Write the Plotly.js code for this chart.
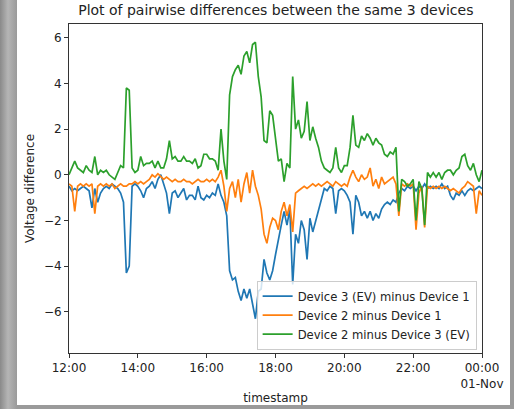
<!DOCTYPE html>
<html>
<head>
<meta charset="utf-8">
<script src="https://cdn.plot.ly/plotly-3.0.1.min.js"></script>
<style>
  html, body { margin: 0; padding: 0; width: 514px; height: 409px; overflow: hidden;
    background: linear-gradient(90deg, #8a8a8a 0px, #b5b5b5 8px, #9a9a9a 17px, #9a9a9a 100%); }
  #chart { position: absolute; left: 17px; top: 0px; width: 493px; height: 405px; background: #fff; }
</style>
</head>
<body>
<div id="chart"></div>
<script>
// 5-minute samples from 12:00 to 00:00
const startTime = '2023-10-31T12:00:00';
const stepMinutes = 5;

const dev3MinusDev1 = [
  -0.5,-0.7,-0.6,-0.7,-0.6,-0.5,-0.6,-0.7,-1.45,-0.6,
  -1.2,-0.8,-0.6,-0.5,-0.6,-0.4,-0.5,-0.6,-0.8,-1.2,
  -4.3,-4.0,-0.5,-0.4,-0.5,-0.7,-1.0,-0.6,-0.5,-0.3,
  -0.6,-0.2,0.0,-0.4,-0.8,-1.7,-0.8,-0.7,-1.0,-0.8,
  -0.6,-1.1,-0.9,-0.9,-1.1,-0.5,-1.0,-1.1,-0.9,-1.0,
  -0.8,-0.9,-0.4,-0.9,-1.2,-1.8,-4.2,-4.6,-4.5,-5.1,
  -5.5,-5.0,-5.4,-5.0,-5.6,-6.3,-5.1,-5.0,-3.7,-4.3,
  -4.6,-4.2,-3.5,-2.8,-2.2,-1.6,-2.2,-1.5,-4.8,-2.6,
  -3.0,-2.0,-2.4,-3.7,-1.9,-2.5,-2.0,-1.5,-1.0,-0.6,
  -0.7,-0.5,-0.6,-1.7,-0.7,-0.6,-0.7,-0.9,-1.2,-2.6,
  -0.9,-1.2,-1.8,-1.6,-1.9,-1.6,-2.0,-1.7,-1.9,-1.5,
  -1.3,-1.2,-1.3,-1.1,-1.2,-0.8,-0.6,-0.7,-0.5,-0.6,
  -0.5,-0.7,-0.5,-0.6,-0.4,-0.6,-0.5,-0.6,-0.5,-0.6,
  -0.4,-0.6,-0.5,-0.9,-1.1,-0.8,-0.9,-0.7,-0.9,-0.7,
  -0.6,-0.7,-0.6,-0.5,-0.6
];

const dev2MinusDev1 = [
  -0.4,-0.5,-1.6,-0.5,-0.4,-0.5,-0.4,-0.5,-0.4,-1.7,
  -0.5,-0.4,-0.5,-0.4,-0.5,-0.4,-0.6,-0.5,-0.4,-0.5,
  -0.5,-0.4,-0.4,-0.3,-0.4,-0.3,-0.4,-0.3,-0.2,0.0,
  -0.1,0.05,-0.1,-0.2,-0.1,-0.2,-0.3,-0.2,-0.3,-0.3,
  -0.2,-0.3,-0.3,-0.4,-0.3,-0.2,-0.3,-0.3,-0.2,-0.3,
  -0.2,-0.3,-0.1,0.2,-0.5,-1.6,-0.6,-0.3,-1.0,-0.2,
  -1.2,-0.4,0.1,-0.8,0.2,-0.5,-0.9,-1.5,-2.6,-3.0,
  -2.3,-1.9,-2.0,-2.4,-1.6,-1.2,-1.8,-1.3,-2.5,-0.8,
  -0.7,-0.6,-0.5,-0.6,-0.5,-0.4,-0.5,-0.4,-0.5,-0.4,
  -0.3,-0.4,-0.5,-0.3,-0.4,-0.5,-0.4,-0.5,-0.1,0.2,
  -0.1,-0.3,0.0,-0.2,-0.1,0.3,-0.5,-0.2,-0.6,-0.1,
  -0.4,-0.3,-0.2,-0.1,-0.4,-1.8,-0.4,-0.5,-0.4,-0.5,
  -0.4,-2.4,-0.8,-0.5,-2.3,-0.5,-0.6,-0.5,-0.6,-0.5,
  -0.6,-0.5,-0.6,-0.7,-0.6,-0.7,-0.8,-0.6,-0.5,-0.3,
  -0.4,-0.5,-1.7,-0.7,-0.9
];

const dev2MinusDev3 = [
  0.0,0.3,0.6,0.3,0.2,0.1,0.4,0.2,0.1,0.8,
  0.0,0.2,0.1,0.2,0.0,-0.1,-0.2,0.1,0.4,0.3,
  3.8,3.7,0.3,0.1,0.2,0.8,0.4,0.5,0.5,0.6,
  0.3,0.6,0.3,0.3,0.7,1.5,0.7,0.8,0.6,0.6,
  0.8,0.6,0.6,0.5,0.7,0.3,0.4,0.9,0.9,0.7,
  0.7,0.6,0.2,2.0,0.6,-0.2,3.5,4.3,4.6,4.8,
  4.4,5.2,5.4,4.9,5.7,5.8,4.3,3.4,1.5,1.4,
  2.8,2.6,1.5,0.6,0.7,-0.3,0.5,0.3,4.3,2.0,
  2.4,1.6,1.9,3.2,1.5,2.1,1.6,1.2,0.6,0.3,
  0.2,0.1,0.3,1.2,0.3,0.1,0.4,0.4,1.2,2.6,
  1.3,1.2,1.7,1.5,1.8,1.6,1.3,1.6,1.4,1.3,
  0.9,0.8,1.0,0.9,1.2,-1.6,-0.2,-0.3,-0.5,-0.4,
  -0.2,-2.0,-0.3,-0.6,-2.2,0.1,-0.1,0.1,-0.1,0.1,
  -0.2,0.1,0.2,0.2,0.0,0.2,0.3,0.8,0.9,0.4,
  0.2,0.5,0.0,-0.3,0.2
];

const seriesNames = ['Device 3 (EV) minus Device 1', 'Device 2 minus Device 1', 'Device 2 minus Device 3 (EV)'];
const seriesColors = ['#1f77b4', '#ff7f0e', '#2ca02c'];
const tickVals = ['2023-10-31 12:00','2023-10-31 14:00','2023-10-31 16:00','2023-10-31 18:00','2023-10-31 20:00','2023-10-31 22:00','2023-11-01 00:00'];
const tickText = ['12:00','14:00','16:00','18:00','20:00','22:00','00:00<br>01-Nov'];
const yTicks = [-6,-4,-2,0,2,4,6];

function pad(n){ return (n<10?'0':'')+n; }
const t0 = new Date(startTime + 'Z').getTime();
const times = dev3MinusDev1.map((_, i) => {
  const d = new Date(t0 + i*stepMinutes*60000);
  return d.getUTCFullYear()+'-'+pad(d.getUTCMonth()+1)+'-'+pad(d.getUTCDate())+' '+pad(d.getUTCHours())+':'+pad(d.getUTCMinutes());
});

const allSeries = [dev3MinusDev1, dev2MinusDev1, dev2MinusDev3];
const traces = allSeries.map((ys, k) => ({
  x: times, y: ys, type: 'scatter', mode: 'lines', name: seriesNames[k],
  line: {color: seriesColors[k], width: 1.7}
}));

const FAM = 'DejaVu Sans, sans-serif';
const layout = {
  width: 493, height: 405,
  margin: {l: 52, r: 28, t: 24, b: 52},
  paper_bgcolor: '#fff', plot_bgcolor: '#fff',
  font: {family: FAM, color: '#222', size: 12},
  showlegend: true,
  title: {text: 'Plot of pairwise differences between the same 3 devices',
          font: {family: FAM, size: 14, color: '#222'},
          x: 0.525, xanchor: 'center', y: 0.996, yanchor: 'top', pad: {t: 4}},
  xaxis: {
    type: 'date', range: ['2023-10-31 12:00', '2023-11-01 00:00'],
    tickvals: tickVals, ticktext: tickText, tickmode: 'array',
    showgrid: false, zeroline: false,
    showline: true, mirror: true, linecolor: '#333', linewidth: 1,
    ticks: 'outside', ticklen: 4, tickcolor: '#333',
    tickfont: {size: 12, family: FAM, color: '#222'},
    title: {text: 'timestamp', font: {size: 12, family: FAM, color: '#222'}, standoff: 6}
  },
  yaxis: {
    range: [-7.8, 6.6], tickvals: yTicks, tickmode: 'array',
    showgrid: false, zeroline: false,
    showline: true, mirror: true, linecolor: '#333', linewidth: 1,
    ticks: 'outside', ticklen: 4, tickcolor: '#333',
    tickfont: {size: 12, family: FAM, color: '#222'},
    title: {text: 'Voltage difference', font: {size: 12, family: FAM, color: '#222'}, standoff: 6}
  },
  legend: {
    x: 0.987, xanchor: 'right', y: 0.01, yanchor: 'bottom',
    bgcolor: 'rgba(255,255,255,0.8)', bordercolor: '#ccc', borderwidth: 1,
    font: {size: 11.6, family: FAM, color: '#222'},
    tracegroupgap: 0, itemwidth: 30
  }
};

Plotly.newPlot('chart', traces, layout, {displayModeBar: false, staticPlot: true});
</script>
</body>
</html>
